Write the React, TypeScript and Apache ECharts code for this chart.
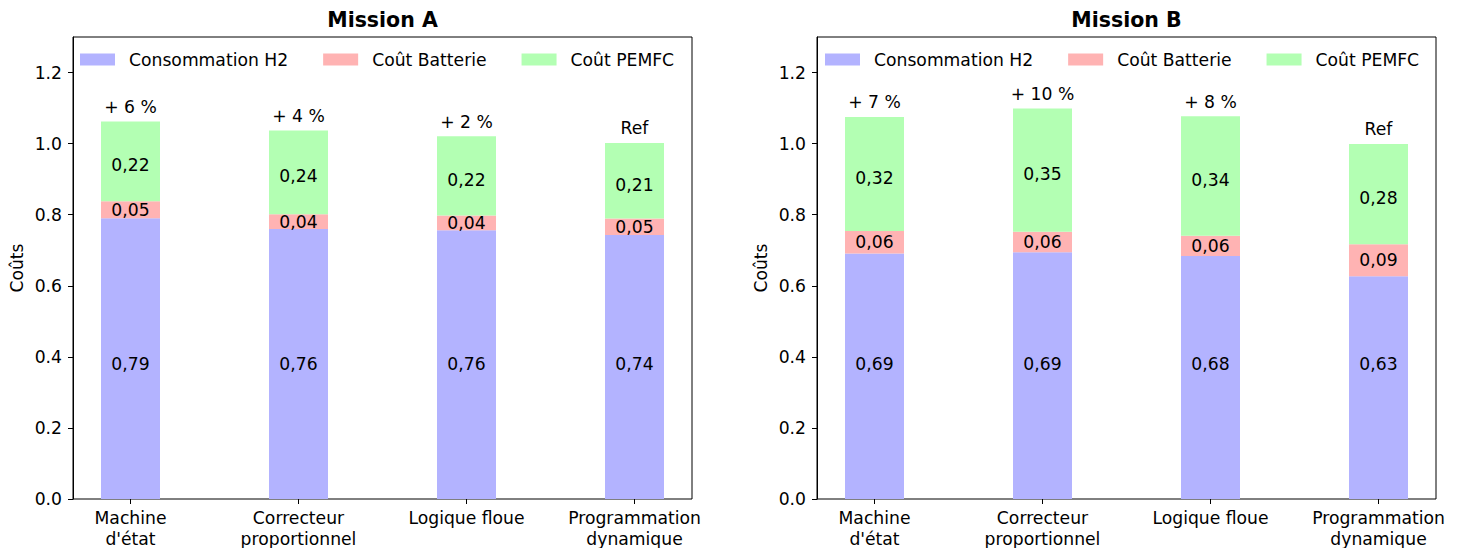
import React, { useEffect, useRef } from "react";
import * as echarts from "echarts";

const categories = ["Machine\nd'état", "Correcteur\nproportionnel", "Logique floue", "Programmation\ndynamique"];
const seriesNames = ["Consommation H2", "Coût Batterie", "Coût PEMFC"];

const missionA_H2 = [0.79, 0.76, 0.756, 0.743];
const missionA_Bat = [0.048, 0.041, 0.042, 0.046];
const missionA_PEMFC = [0.224, 0.236, 0.223, 0.213];
const missionA_Top = ["+ 6 %", "+ 4 %", "+ 2 %", "Ref"];

const missionB_H2 = [0.691, 0.694, 0.684, 0.627];
const missionB_Bat = [0.063, 0.058, 0.057, 0.09];
const missionB_PEMFC = [0.321, 0.347, 0.336, 0.282];
const missionB_Top = ["+ 7 %", "+ 10 %", "+ 8 %", "Ref"];

const yTicks = [0, 0.2, 0.4, 0.6, 0.8, 1.0, 1.2];

const FONT = "DejaVu Sans";
const FS = 17.2;
const COLORS = ["#b3b3ff", "#ffb3b3", "#b3ffb3"];

export default function App() {
  const ref = useRef<HTMLDivElement>(null);
  useEffect(() => {
    document.body.style.margin = "0";
    if (!ref.current) return;
    const chart = echarts.init(ref.current, undefined, { renderer: "svg" });

    const panels = [
      { frameLeft: 73, dataLeft: 46.5, title: "Mission A", h2: missionA_H2, bat: missionA_Bat, pem: missionA_PEMFC, top: missionA_Top, legendLeft: 80 },
      { frameLeft: 817, dataLeft: 790.5, title: "Mission B", h2: missionB_H2, bat: missionB_Bat, pem: missionB_PEMFC, top: missionB_Top, legendLeft: 825 },
    ];

    const grid: any[] = [];
    const xAxis: any[] = [];
    const yAxis: any[] = [];
    const series: any[] = [];
    const legend: any[] = [];
    const graphic: any[] = [];
    const fmt = (p: any) => Number(p.value).toFixed(2).replace(".", ",");

    panels.forEach((p, k) => {
      const gFrame = k * 2;
      const gData = k * 2 + 1;
      grid.push({ left: p.frameLeft, top: 37, width: 619, height: 462, outerBoundsMode: "none", containLabel: false, show: true, borderColor: "#000", borderWidth: 1, backgroundColor: "transparent", z: 0 });
      grid.push({ left: p.dataLeft, top: 37, width: 672, height: 462, outerBoundsMode: "none", containLabel: false, show: false });

      xAxis.push({ gridIndex: gFrame, type: "value", min: 0, max: 1, show: false });
      yAxis.push({
        gridIndex: gFrame, type: "value", min: 0, max: 1.3, interval: 0.2,
        name: "Coûts", nameLocation: "middle", nameGap: 48,
        nameTextStyle: { fontFamily: FONT, fontSize: FS, color: "#000" },
        axisLine: { show: true, lineStyle: { color: "#000", width: 1 } },
        axisTick: { show: true, length: 5, lineStyle: { color: "#000" }, customValues: yTicks },
        axisLabel: { show: true, margin: 11, fontFamily: FONT, fontSize: FS, color: "#000", customValues: yTicks, formatter: (v: number) => v.toFixed(1) },
        splitLine: { show: false },
      });

      xAxis.push({
        gridIndex: gData, type: "category", data: categories, boundaryGap: true,
        axisLine: { show: false },
        axisTick: { show: true, alignWithLabel: true, length: 5, lineStyle: { color: "#000" } },
        axisLabel: { interval: 0, margin: 8, fontFamily: FONT, fontSize: FS, lineHeight: 21, color: "#000" },
        splitLine: { show: false },
      });
      yAxis.push({ gridIndex: gData, type: "value", min: 0, max: 1.3, show: false, splitLine: { show: false } });

      const xi = gData, yi = gData;
      const stack = "s" + k;
      const labelBase = { fontFamily: FONT, fontSize: FS, color: "#000" };
      series.push({
        name: seriesNames[0], type: "bar", xAxisIndex: xi, yAxisIndex: yi, stack, barWidth: 59,
        data: p.h2, itemStyle: { color: COLORS[0] },
        label: { show: true, position: "insideBottom", distance: 127, formatter: fmt, ...labelBase },
      });
      series.push({
        name: seriesNames[1], type: "bar", xAxisIndex: xi, yAxisIndex: yi, stack, barWidth: 59,
        data: p.bat, itemStyle: { color: COLORS[1] },
        label: { show: true, position: "inside", formatter: fmt, ...labelBase },
      });
      series.push({
        name: seriesNames[2], type: "bar", xAxisIndex: xi, yAxisIndex: yi, stack, barWidth: 59,
        data: p.pem, itemStyle: { color: COLORS[2] },
        label: { show: true, position: "inside", offset: [0, 4], formatter: fmt, ...labelBase },
      });
      series.push({
        name: "top" + k, type: "bar", xAxisIndex: xi, yAxisIndex: yi, stack, barWidth: 59,
        data: p.h2.map(() => 0), itemStyle: { color: "#fff", opacity: 0 },
        label: { show: true, position: "top", distance: 6, formatter: (q: any) => p.top[q.dataIndex], ...labelBase, opacity: 1 },
        emphasis: { disabled: true },
      });

      legend.push({
        left: p.legendLeft, top: 51, padding: 0, orient: "horizontal", icon: "rect",
        itemWidth: 35, itemHeight: 12, itemGap: 35,
        textStyle: { fontFamily: FONT, fontSize: FS, color: "#000", padding: [0, 0, 0, 9] },
        data: seriesNames,
      });

      graphic.push({
        type: "text", x: p.frameLeft + 309.5, y: 19.5,
        style: { text: p.title, font: `bold 20.5px "${FONT}"`, fill: "#000", align: "center", verticalAlign: "middle" },
      });
    });

    chart.setOption({
      animation: false,
      backgroundColor: "#fff",
      grid, xAxis, yAxis, series, legend, graphic,
      tooltip: { show: false },
    });
    return () => chart.dispose();
  }, []);

  return <div ref={ref} style={{ width: 1459, height: 548 }} />;
}
